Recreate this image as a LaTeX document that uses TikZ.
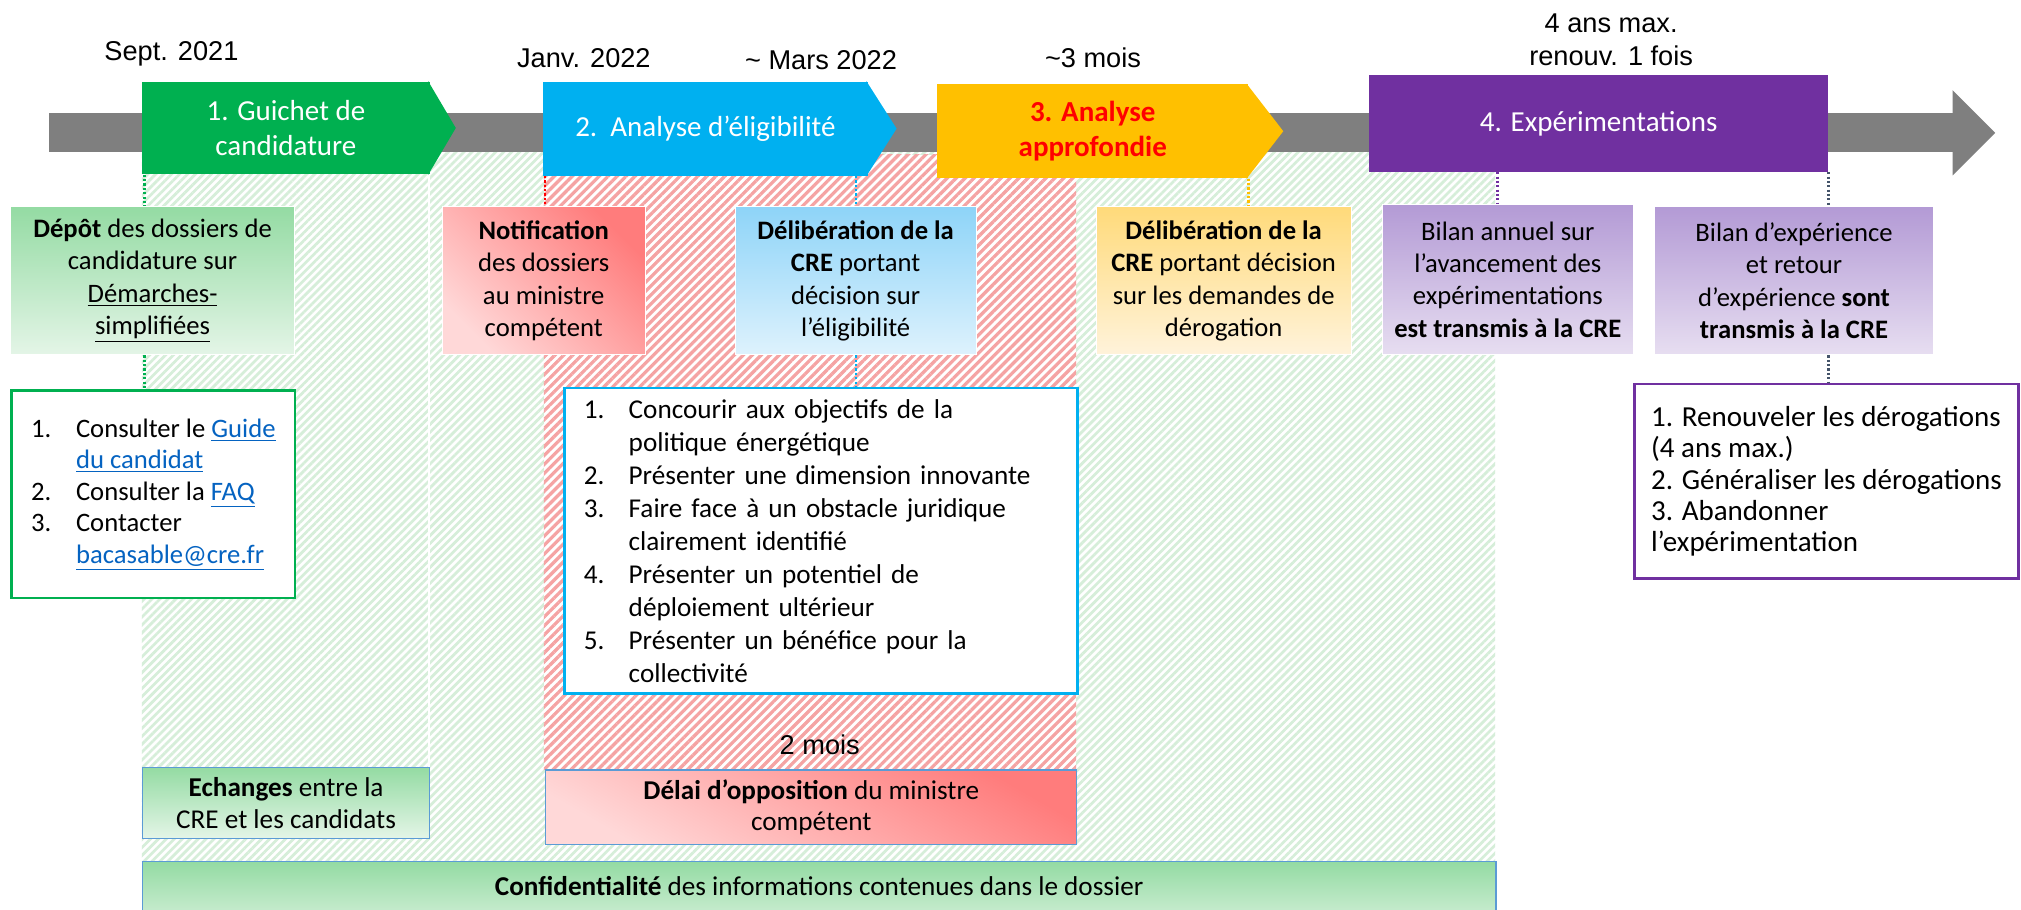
\documentclass[tikz,border=0pt]{standalone}
\usepackage{fontspec}
\setmainfont{Carlito}
\newfontfamily\datefont{Liberation Sans}
\usetikzlibrary{patterns.meta}

\definecolor{barGray}{HTML}{7F7F7F}
\definecolor{phGreen}{HTML}{00B050}
\definecolor{phBlue}{HTML}{00B0F0}
\definecolor{phGold}{HTML}{FFC000}
\definecolor{phPurple}{HTML}{7030A0}
\definecolor{slate}{HTML}{44546A}
\definecolor{hatchGreen}{HTML}{D6EED9}
\definecolor{hatchRed}{HTML}{F5A3A3}
\definecolor{greenTop}{HTML}{94DBA3}
\definecolor{greenBot}{HTML}{E4F5E7}
\definecolor{redDark}{HTML}{FF7C7C}
\definecolor{redLight}{HTML}{FFD8D8}
\definecolor{blueTop}{HTML}{8ED4F8}
\definecolor{blueBot}{HTML}{DEF2FD}
\definecolor{goldTop}{HTML}{FFDA7A}
\definecolor{goldBot}{HTML}{FFF3DB}
\definecolor{lilacTop}{HTML}{B39AD5}
\definecolor{lilacBot}{HTML}{E7DEF1}
\definecolor{linkBlue}{HTML}{0563C1}
\definecolor{edgeBlue}{HTML}{5B9BD5}

\newcommand{\lnk}[1]{\textcolor{linkBlue}{\underline{#1}}}
\newcommand{\itemno}[1]{\makebox[0.87cm][l]{#1}}

\begin{document}
\begin{tikzpicture}[x=0.025cm, y=-0.025cm,
  font=\fontsize{14.7}{17}\selectfont,
  phase/.style={anchor=north west, inner sep=0pt, minimum height=1.8cm, text=white, align=center, font=\fontsize{16}{19}\selectfont},
  stepbox/.style={anchor=north west, inner sep=1pt, align=center, draw=white, line width=0.5pt, minimum height=2.875cm, font=\fontsize{14.7}{17.8}\selectfont},
  listbox/.style={anchor=north west, fill=white, line width=1.4pt, align=left, inner xsep=0.35cm, inner ysep=0pt, font=\fontsize{14.7}{17.4}\selectfont},
  bandbox/.style={anchor=north west, inner sep=1pt, align=center, draw=edgeBlue, line width=0.6pt, font=\fontsize{15}{17.5}\selectfont},
  datelbl/.style={font=\datefont\fontsize{15}{18.5}\selectfont, align=center},
  tick/.style={dash pattern=on 1.2pt off 1.2pt, line width=1.3pt},
]
  \path[use as bounding box, fill=white] (0,0) rectangle (1568,706);

  % Hatched periods (confidentiality, then opposition delay)
  \path[pattern={Lines[angle=45,distance=3.1pt,line width=1.5pt]}, pattern color=hatchGreen] (110,118) rectangle (1160,668);
  \fill[white] (422,120) rectangle (835,597);
  \path[pattern={Lines[angle=45,distance=3.5pt,line width=1.8pt]}, pattern color=hatchRed] (422,120) rectangle (835,597);
  \draw[white, line width=1pt] (333,118) -- (333,595);

  % Gray timeline
  \fill[barGray] (38,88) rectangle (1515,118);
  \fill[barGray] (1515,70) -- (1548,103) -- (1515,136) -- cycle;

  % Phase arrows
  \node[phase, fill=phGreen, minimum width=5.575cm] (guichet) at (110,63) {1. Guichet de\\candidature};
  \fill[phGreen] ([xshift=-1pt]guichet.north east) -- ([xshift=0.5cm]guichet.east) -- ([xshift=-1pt]guichet.south east) -- cycle;
  \node[phase, fill=phBlue, minimum width=6.3cm, minimum height=1.825cm] (analyse) at (421,63) {2.\ \ Analyse d’éligibilité};
  \fill[phBlue] ([xshift=-1pt]analyse.north east) -- ([xshift=0.55cm]analyse.east) -- ([xshift=-1pt]analyse.south east) -- cycle;
  \node[phase, fill=phGold, minimum width=6.025cm, minimum height=1.825cm, text=red, font=\bfseries\fontsize{16}{19}\selectfont] (approf) at (727,65) {3. Analyse\\approfondie};
  \fill[phGold] ([xshift=-1pt]approf.north east) -- ([xshift=0.675cm]approf.east) -- ([xshift=-1pt]approf.south east) -- cycle;
  \node[phase, fill=phPurple, minimum width=8.9cm, minimum height=1.875cm] (exper) at (1062,58) {4. Expérimentations};

  % Dates and durations
  \node[datelbl] (sept) at (133,42) {Sept. 2021};
  \node[datelbl] (janv) at (453,45) {Janv. 2022};
  \node[datelbl] (mars) at (637,47) {\textasciitilde{} Mars 2022};
  \node[datelbl] (troismois) at (848,45) {\textasciitilde3 mois};
  \node[datelbl] (quatreans) at (1250,31) {4 ans max.\\renouv. 1 fois};
  \node[datelbl] (deuxmois) at (636,578) {2 mois};

  % Step boxes
  \node[stepbox, top color=greenTop, bottom color=greenBot, minimum width=5.5cm] (depot) at (8,160)
    {\textbf{Dépôt} des dossiers de\\candidature sur\\\underline{Démarches-}\\\underline{simplifiées}};
  \node[stepbox, top color=redDark, bottom color=redLight, shading angle=-45, minimum width=3.925cm] (notif) at (343,160)
    {\textbf{Notification}\\des dossiers\\au ministre\\compétent};
  \node[stepbox, top color=blueTop, bottom color=blueBot, minimum width=4.675cm] (delib1) at (570,160)
    {\textbf{Délibération de la}\\\textbf{CRE} portant\\décision sur\\l’éligibilité};
  \node[stepbox, top color=goldTop, bottom color=goldBot, minimum width=4.95cm] (delib2) at (850,160)
    {\textbf{Délibération de la}\\\textbf{CRE} portant décision\\sur les demandes de\\dérogation};
  \node[stepbox, top color=lilacTop, bottom color=lilacBot, minimum width=4.875cm, minimum height=2.925cm] (bilan1) at (1072,158)
    {Bilan annuel sur\\l’avancement des\\expérimentations\\\textbf{est transmis à la CRE}};
  \node[stepbox, top color=lilacTop, bottom color=lilacBot, minimum width=5.425cm] (bilan2) at (1283,160)
    {Bilan d’expérience\\et retour\\d’expérience \textbf{sont}\\\textbf{transmis à la CRE}};

  % Lists
  \node[listbox, draw=phGreen, minimum width=5.5cm, minimum height=4.025cm] (liste1) at (8,302)
    {\itemno{1.}Consulter le \lnk{Guide}\\\itemno{}\lnk{du candidat}\\\itemno{2.}Consulter la \lnk{FAQ}\\\itemno{3.}Contacter\\\itemno{}\lnk{bacasable@cre.fr}};
  \node[listbox, draw=phBlue, text width=9.2cm, inner xsep=0.375cm, minimum height=5.925cm, font=\fontsize{15}{18.2}\selectfont] (criteres) at (437,300)
    {\itemno{1.}Concourir aux objectifs de la\\\itemno{}politique énergétique\\\itemno{2.}Présenter une dimension innovante\\\itemno{3.}Faire face à un obstacle juridique\\\itemno{}clairement identifié\\\itemno{4.}Présenter un potentiel de\\\itemno{}déploiement ultérieur\\\itemno{5.}Présenter un bénéfice pour la\\\itemno{}collectivité};
  \node[listbox, draw=phPurple, minimum width=7.45cm, minimum height=3.775cm, inner xsep=0.3cm, font=\fontsize{16}{17.2}\selectfont] (liste4) at (1267,297)
    {1. Renouveler les dérogations\\(4 ans max.)\\2. Généraliser les dérogations\\3. Abandonner\\l’expérimentation};

  % Bottom bands
  \node[bandbox, top color=greenTop, bottom color=greenBot, minimum width=5.575cm, minimum height=1.375cm] (echanges) at (110,595)
    {\textbf{Echanges} entre la\\CRE et les candidats};
  \node[bandbox, top color=redDark, bottom color=redLight, shading angle=-30, minimum width=10.3cm, minimum height=1.45cm] (delai) at (423,597)
    {\textbf{Délai d’opposition} du ministre\\compétent};
  \node[bandbox, top color=greenTop, bottom color=greenBot!60!greenTop, minimum width=26.25cm, minimum height=0.95cm] (confid) at (110,668)
    {\textbf{Confidentialité} des informations contenues dans le dossier};

  % Dotted links
  \coordinate (gx) at ([xshift=0.05cm]guichet.south west);
  \draw[tick, phGreen] (gx) -- (gx |- depot.north);
  \draw[tick, phGreen] (gx |- depot.south) -- (gx |- liste1.north);
  \coordinate (ax) at ([xshift=0.05cm]analyse.south west);
  \draw[tick, red] (ax) -- (ax |- notif.north);
  \draw[tick, phBlue] (delib1.north |- analyse.south) -- (delib1.north);
  \draw[tick, phBlue] (delib1.south) -- (delib1.south |- criteres.north);
  \draw[tick, phGold] (approf.south east) -- (approf.south east |- delib2.north);
  \coordinate (ex) at ([xshift=-0.2cm]bilan1.north);
  \draw[tick, phPurple] (ex |- exper.south) -- (ex);
  \draw[tick, slate] (exper.south east) -- (exper.south east |- bilan2.north);
  \draw[tick, slate] (exper.south east |- bilan2.south) -- (exper.south east |- liste4.north);
\end{tikzpicture}
\end{document}
